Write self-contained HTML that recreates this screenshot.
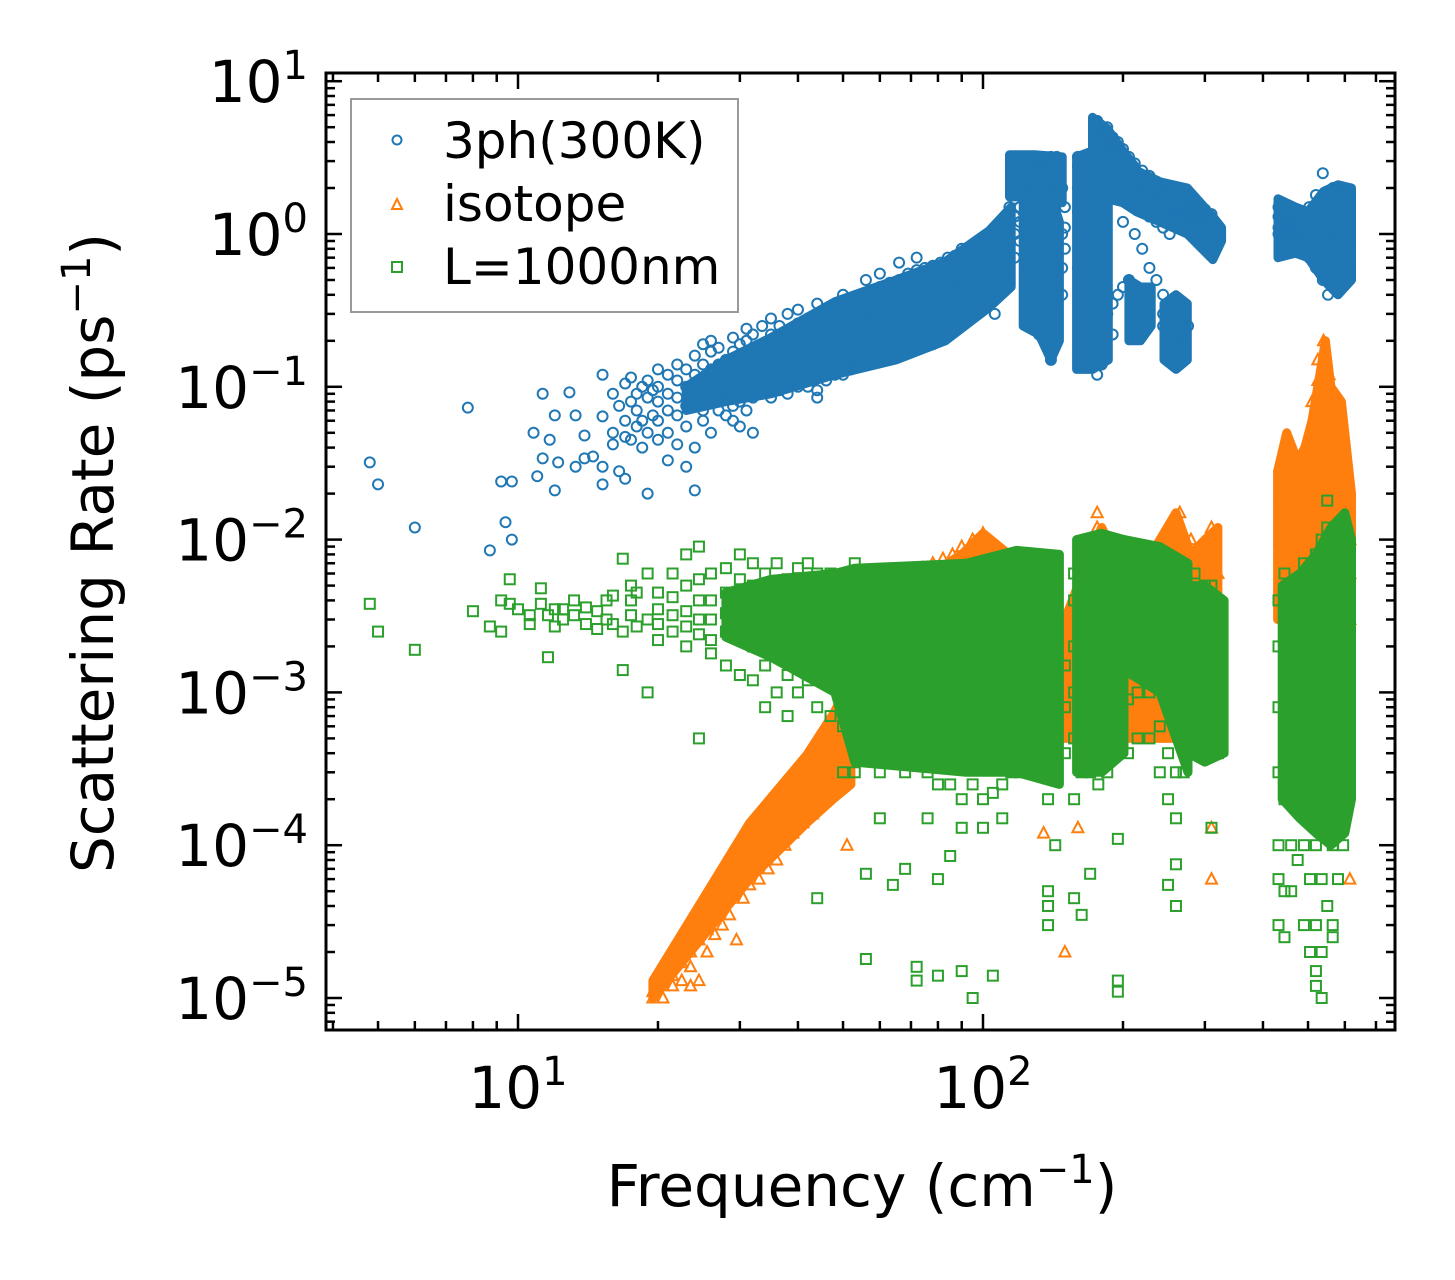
<!DOCTYPE html>
<html><head><meta charset="utf-8"><style>
html,body{margin:0;padding:0;background:#fff;}
svg{display:block;font-family:"DejaVu Sans","Liberation Sans",sans-serif;}
</style></head><body>
<svg id="chart" width="1455" height="1280" viewBox="0 0 1455 1280">
<rect x="0" y="0" width="1455" height="1280" fill="#fff"/>
<g id="marks"></g>
<g id="axes"></g>
<g id="legend">
<rect x="351" y="99" width="387" height="213" fill="#fff" fill-opacity="0.8" stroke="#999" stroke-width="2"/>
<circle cx="397" cy="140" r="4.5" fill="none" stroke="#1f77b4" stroke-width="2"/>
<text x="443" y="158" font-size="50">3ph(300K)</text>
<path d="M397,199 L402,209 L392,209 Z" fill="none" stroke="#ff7f0e" stroke-width="2"/>
<text x="443" y="221" font-size="50">isotope</text>
<rect x="392" y="262" width="10" height="10" fill="none" stroke="#2ca02c" stroke-width="2"/>
<text x="443" y="284" font-size="50">L=1000nm</text>
</g>
<text x="862" y="1206" font-size="58" text-anchor="middle">Frequency (cm<tspan baseline-shift="super" font-size="40">−1</tspan>)</text>
<text transform="translate(113,553) rotate(-90)" font-size="58" text-anchor="middle">Scattering Rate (ps<tspan baseline-shift="super" font-size="40">−1</tspan>)</text>
</svg>
<script>
const xTickExps = [1, 2];
const yTickExps = [1, 0, -1, -2, -3, -4, -5];

// Dense (marker-saturated) regions: frequency, lower and upper rate envelopes
const blueBandFreq = [[23,28,35,48,65,83,103,115],[114,130,148],[122,132,140,146],[159,172,186],[172,185,200,214],[214,240,275,312,326],[206,218,230],[245,260,275],[431,470,500,540,580,620]];
const blueBandLo   = [[0.07,0.08,0.09,0.12,0.15,0.2,0.33,0.45],[1.75,1.75,1.6],[0.25,0.22,0.15,0.2],[0.13,0.13,0.15],[1.6,1.7,1.6,1.4],[1.4,1.2,1.0,0.68,0.9],[0.2,0.2,0.25],[0.15,0.13,0.15],[0.7,0.75,0.7,0.5,0.4,0.5]];
const blueBandHi   = [[0.1,0.15,0.21,0.36,0.5,0.66,1.05,1.5],[3.3,3.3,3.2],[1.8,1.8,1.8,1.2],[3.2,3.5,2.0],[5.8,4.9,3.5,2.7],[2.6,2.2,2.0,1.3,1.1],[0.5,0.45,0.45],[0.35,0.4,0.35],[1.7,1.5,1.4,1.9,2.1,2.0]];
const orangeBandFreq = [[19.5,31.5,41.8,47.6,52],[52,70,90,100,120,145],[150,170,180,200,230,260,280,300,320],[430,450,480,510,530,545,560,590,620]];
const orangeBandLo   = [[1e-5,6e-5,1.4e-4,2e-4,2.5e-4],[4e-4,5e-4,5e-4,5e-4,5e-4,5e-4],[5e-4,5e-4,5e-4,5e-4,5e-4,5e-4,5e-4,5e-4,5e-4],[3e-3,3e-3,3e-3,3e-3,3e-3,3e-3,3e-3,3e-3,3e-3]];
const orangeBandHi   = [[1.3e-5,1.4e-4,3.9e-4,7.2e-4,1.2e-3],[3e-3,5e-3,8e-3,1.1e-2,7e-3,6e-3],[3e-3,8e-3,1.2e-2,6e-3,8e-3,1.5e-2,8e-3,1e-2,1.2e-2],[2.8e-2,5e-2,3e-2,6e-2,1.2e-1,2e-1,1e-1,8e-2,2e-2]];
const greenBandFreq = [[28,35,48,53,92,118,146],[159,180,201],[201,240,276],[276,300,330],[440,480,520,560,600,620]];
const greenBandLo   = [[2.3e-3,1.7e-3,1e-3,3.5e-4,3e-4,3e-4,2.5e-4],[3e-4,3e-4,4e-4],[1.4e-3,1e-3,3e-4],[4e-4,3.5e-4,4e-4],[2e-4,1.5e-4,1.2e-4,1e-4,1.2e-4,2e-4]];
const greenBandHi   = [[4.5e-3,5.5e-3,6e-3,6.5e-3,7e-3,8.5e-3,8e-3],[1e-2,1.1e-2,1e-2],[1e-2,9e-3,7e-3],[5e-3,5e-3,4e-3],[5e-3,6e-3,8e-3,1.2e-2,1.5e-2,1e-2]];

const blueData = [
[4.8,[0.032]],[5.0,[0.023]],[6.0,[0.012]],[7.8,[0.073]],[8.7,[0.0085]],[9.2,[0.024]],[9.4,[0.013]],[9.7,[0.024,0.01]],
[10.8,[0.05]],[11.0,[0.026]],[11.3,[0.09,0.034]],[11.7,[0.045]],[12,[0.065,0.021]],[12.2,[0.032]],[12.9,[0.092]],
[13.3,[0.03,0.065]],[13.9,[0.048,0.034]],[14.5,[0.035]],[15.2,[0.12,0.064,0.023,0.03]],[16,[0.09,0.05,0.042]],
[16.5,[0.075,0.028]],[17,[0.105,0.06,0.025,0.047]],[17.5,[0.115,0.08,0.045]],[18,[0.07,0.09,0.055]],[18.5,[0.1,0.06,0.04]],
[19,[0.085,0.11,0.05,0.02]],[19.5,[0.095,0.065]],
[20,[0.06,0.08,0.1,0.13,0.045]],[21,[0.07,0.09,0.12,0.05,0.033]],[22,[0.065,0.085,0.11,0.14,0.042]],
[23,[0.075,0.1,0.13,0.055,0.03]],[24,[0.08,0.095,0.12,0.16,0.04,0.021]],[25,[0.07,0.09,0.11,0.14,0.19,0.06]],
[26,[0.08,0.1,0.13,0.17,0.2,0.05]],[27,[0.085,0.11,0.14,0.18,0.07]],[28,[0.09,0.12,0.15,0.1,0.065]],
[29,[0.095,0.13,0.17,0.21,0.075,0.06]],[30,[0.1,0.12,0.15,0.19,0.08,0.055]],[31,[0.09,0.13,0.16,0.2,0.24,0.07]],
[32,[0.1,0.14,0.18,0.22,0.085,0.05]],[33.5,[0.11,0.15,0.19,0.25,0.09,0.13]],[35,[0.1,0.13,0.17,0.22,0.28,0.085]],
[36.5,[0.12,0.16,0.2,0.25,0.095,0.14]],[38,[0.11,0.14,0.18,0.23,0.3,0.09]],[40,[0.12,0.15,0.2,0.26,0.32,0.1,0.17]],
[42,[0.13,0.17,0.22,0.28,0.1,0.15]],[44,[0.12,0.16,0.21,0.27,0.35,0.095,0.085]],[46,[0.14,0.18,0.24,0.3,0.11,0.16]],
[48,[0.15,0.2,0.26,0.33,0.12,0.18]],[50,[0.14,0.19,0.25,0.32,0.4,0.12,0.22]],[52,[0.16,0.21,0.28,0.36,0.13,0.24]],
[54,[0.17,0.22,0.3,0.38,0.14,0.26]],[56,[0.18,0.24,0.31,0.4,0.5,0.15,0.27]],[58,[0.19,0.25,0.33,0.43,0.16,0.29]],
[60,[0.2,0.26,0.35,0.45,0.55,0.17,0.3]],[63,[0.21,0.28,0.37,0.48,0.18,0.32,0.42]],[66,[0.22,0.3,0.4,0.5,0.65,0.19,0.35]],
[69,[0.24,0.32,0.42,0.55,0.2,0.37,0.48]],[72,[0.25,0.34,0.45,0.58,0.7,0.21,0.4]],[75,[0.27,0.36,0.48,0.6,0.22,0.42,0.54]],
[78,[0.28,0.38,0.5,0.62,0.19,0.44,0.56]],[81,[0.3,0.4,0.52,0.65,0.25,0.46]],[84,[0.32,0.42,0.55,0.7,0.26,0.48]],
[87,[0.33,0.44,0.58,0.72,0.28,0.5]],[90,[0.35,0.46,0.6,0.75,0.3,0.8,0.53]],[94,[0.37,0.48,0.62,0.78,0.3,0.55]],
[98,[0.4,0.5,0.65,0.8,0.33,0.58]],[102,[0.42,0.55,0.7,0.85,0.35,0.62]],[106,[0.45,0.6,0.75,0.9,0.38,0.3]],
[110,[0.5,0.65,0.8,1.0,0.42,0.57]],[114,[0.6,0.75,0.9,1.2,1.5,0.5]],[117,[1.0,1.3,1.7,2.2,3.2,0.7]],
[120,[1.2,1.5,2.0,2.5,3.0,0.9]],[124,[1.5,1.9,2.3,2.8,1.2,0.6]],[128,[1.6,2.0,2.4,2.9,0.5,0.3]],
[132,[1.8,2.2,2.6,3.0,0.35,0.22]],[136,[1.9,2.3,2.7,3.1,1.2,0.25]],[140,[2.0,2.4,2.8,3.2,0.2,0.15,0.7]],
[144,[2.1,2.5,2.9,3.2,0.3,0.5]],[148,[1.0,0.6,0.4,2.0]],[150,[0.8,1.1,1.5]],
[160,[1.4,2.0,2.8,3.2,0.6]],[165,[1.0,1.5,2.2,3.0,0.3,0.5]],[169,[0.8,1.2,1.8,2.4,0.25]],[173,[0.5,0.7,1.0,1.5,0.2]],
[176,[0.12,0.15,0.2,0.3,0.45,5.5,4.5]],[180,[4.0,4.5,5.0,3.5,2.5,0.14]],[185,[3.5,4.2,5.0,2.8,0.3]],
[190,[3.0,3.6,4.3,2.5,0.35,0.22]],[195,[2.8,3.3,4.0,2.3,0.4]],[200,[2.5,3.0,3.6,1.8,1.2,0.45]],
[206,[2.2,2.7,3.2,1.6,0.5]],[212,[2.0,2.4,2.9,1.5,1.0]],[220,[1.8,2.2,2.6,1.4,0.8]],[228,[1.7,2.0,2.4,1.3,0.6]],
[236,[1.6,1.9,2.2,1.2,0.5]],[244,[1.5,1.8,2.1,1.1,0.4,0.3,0.25]],[252,[1.4,1.7,2.0,1.0,0.35,0.22]],
[260,[1.4,1.6,1.9,0.3,0.2,0.18]],[268,[1.3,1.5,1.8,0.35,0.25,0.2]],[276,[1.3,1.5,1.7,0.25]],[284,[1.2,1.4,1.6]],
[292,[1.2,1.35,1.5]],[300,[1.1,1.3,1.45]],[310,[1.05,1.2,1.35]],[322,[1.0,1.1]],
[432,[1.1,1.3,1.5,1.0]],[445,[1.0,1.2,1.4,0.9]],[458,[1.0,1.2,1.3,0.95]],[472,[0.9,1.1,1.3]],
[486,[0.9,1.0,1.2,1.4]],[503,[0.8,1.0,1.2,1.5,0.7]],[520,[0.7,0.9,1.1,1.4,1.8,0.6]],
[538,[0.6,0.8,1.0,1.3,1.7,2.5,0.5]],[552,[0.5,0.7,1.0,1.4,1.9,0.4]],[566,[0.6,0.8,1.1,1.5,2.0,0.45]],
[580,[0.7,0.9,1.2,1.6,2.0,0.5]],[595,[0.8,1.0,1.3,1.7,0.6]],[610,[0.9,1.1,1.4,1.9,0.55]]
];
const orangeData = [
[19.5,[1e-5,1.1e-5]],[20.5,[1.2e-5,1.5e-5,1e-5]],[21.5,[1.4e-5,1.8e-5,1.2e-5]],[22.5,[1.7e-5,2.2e-5,1.3e-5]],
[23.5,[2e-5,2.6e-5,1.6e-5,1.2e-5]],[24.5,[2.4e-5,3.1e-5,4e-5,1.3e-5]],[25.5,[2.8e-5,3.6e-5,4.8e-5,2e-5]],
[26.5,[3.3e-5,4.3e-5,5.6e-5,2.6e-5]],[27.5,[3.9e-5,5e-5,6.5e-5,3e-5]],[28.5,[4.5e-5,6e-5,7.8e-5,3.5e-5]],
[29.5,[5.2e-5,7e-5,9e-5,2.4e-5]],[30.5,[6e-5,8e-5,1.05e-4,4.5e-5]],[31.5,[7e-5,9.5e-5,1.2e-4,5.5e-5]],
[33,[8e-5,1.1e-4,1.4e-4,6e-5]],[34.5,[1e-4,1.3e-4,1.7e-4,7e-5]],[36,[1.2e-4,1.5e-4,1.9e-4,8e-5]],
[37.5,[1.4e-4,1.7e-4,2.1e-4,1e-4]],[39,[1.6e-4,1.9e-4,2.3e-4,1.2e-4]],[41,[1.8e-4,2.1e-4,2.5e-4,1.4e-4]],
[43,[2e-4,2.3e-4,2.8e-4,1.6e-4]],[45,[2.3e-4,2.6e-4,3.1e-4,1.9e-4]],[47,[2.6e-4,3e-4,3.6e-4,4.5e-4]],
[49,[3e-4,4e-4,5.5e-4,8e-4]],[51,[4e-4,6e-4,9e-4,1.3e-3,1e-4]],[53,[5e-4,8e-4,1.2e-3,1.8e-3]],
[55,[6e-4,1e-3,1.5e-3,2.2e-3]],[57,[8e-4,1.3e-3,2e-3,3e-3]],[60,[1e-3,1.6e-3,2.4e-3,3.5e-3,6e-4]],
[63,[1.2e-3,2e-3,3e-3,4e-3,7e-4]],[66,[1.5e-3,2.5e-3,3.5e-3,5e-3]],[70,[1.8e-3,2.8e-3,4e-3,6e-3,9e-4]],
[74,[2e-3,3e-3,4.5e-3,6.5e-3]],[78,[2.2e-3,3.2e-3,5e-3,7e-3,1e-3]],[82,[2.5e-3,3.5e-3,5.5e-3,7.5e-3]],
[86,[2.8e-3,4e-3,6e-3,8e-3,1.2e-3]],[90,[3e-3,4.5e-3,6.5e-3,9e-3]],[95,[3.2e-3,5e-3,7e-3,1e-2,1.5e-3]],
[100,[3.5e-3,5.5e-3,8e-3,1.1e-2]],[105,[3e-3,4.5e-3,6e-3,8e-3,1.3e-3]],[110,[2.5e-3,4e-3,5.5e-3,7e-3]],
[115,[2e-3,3e-3,4e-3,5e-3,1e-3]],[120,[1.8e-3,2.8e-3,3.8e-3,1.2e-3]],[127,[2e-3,3e-3,4.5e-3]],
[135,[2.5e-3,3.5e-3,5e-3,1.5e-3,1.2e-4]],[143,[2e-3,3e-3,4e-3]],[150,[1e-3,2e-3,3e-3,2e-5]],
[160,[2e-3,3e-3,4e-3,5e-3,8e-4,1.3e-4]],[168,[3e-3,4.5e-3,6e-3,8e-3,1e-3]],[176,[4e-3,6e-3,9e-3,1.2e-2,1.5e-2]],
[185,[3e-3,5e-3,7e-3,9e-3]],[195,[2.5e-3,4e-3,6e-3,2e-3]],[205,[3e-3,4e-3,5e-3]],[215,[3e-3,4e-3,5.5e-3,2e-3]],
[228,[3e-3,4.5e-3,6e-3,2.5e-3]],[240,[3.5e-3,5e-3,7e-3,9e-3,2e-3]],[255,[4e-3,6e-3,9e-3,1.3e-2,2.5e-3]],
[265,[5e-3,8e-3,1.2e-2,1.5e-2,1e-3]],[280,[3e-3,5e-3,7e-3,1e-2]],[295,[2.5e-3,4e-3,6e-3]],
[310,[3e-3,5e-3,8e-3,1.2e-2,6e-5,1.3e-4]],[320,[3e-3,4e-3,6e-3]],
[435,[5e-3,1e-2,2e-2,3e-2]],[450,[8e-3,1.5e-2,2.5e-2,4e-2,5e-3]],[470,[5e-3,8e-3,1.2e-2,2e-2,3e-3]],
[490,[6e-3,1e-2,1.6e-2,2.5e-2,4e-2]],[510,[8e-3,1.5e-2,3e-2,5e-2,8e-2]],[525,[1e-2,2e-2,4e-2,7e-2,1.1e-1,1.5e-1]],
[540,[1.2e-2,2.5e-2,5e-2,9e-2,1.4e-1,2e-1]],[555,[1e-2,2e-2,4e-2,7e-2,1.2e-1]],[570,[8e-3,1.5e-2,3e-2,5e-2,8e-2]],
[585,[5e-3,1e-2,2e-2,3e-2,5e-2]],[600,[4e-3,8e-3,1.5e-2,2.5e-2,1.9e-4]],[615,[3e-3,6e-3,1e-2,6e-5]]
];
const greenData = [
[4.8,[3.8e-3]],[5.0,[2.5e-3]],[6,[1.9e-3]],[8,[3.4e-3]],[8.7,[2.7e-3]],[9.2,[4e-3,2.5e-3]],[9.6,[5.5e-3,3.8e-3]],
[10,[3.5e-3]],[10.6,[3.2e-3,2.8e-3]],[11.2,[4.8e-3,3.8e-3]],[11.6,[1.7e-3,3.2e-3]],[12,[2.7e-3,3.5e-3]],
[12.5,[3.5e-3,3e-3]],[13.2,[3.2e-3,4e-3]],[14,[2.8e-3,3.6e-3]],[14.8,[3.4e-3,2.6e-3]],[15.5,[4e-3,3e-3]],
[16,[4.3e-3,2.8e-3]],[16.8,[1.4e-3,2.5e-3,7.5e-3]],[17.5,[4e-3,3.2e-3,5e-3]],[18,[2.7e-3,4.5e-3]],[19,[3e-3,6e-3,1e-3]],
[20,[2.8e-3,3.5e-3,4.5e-3,2.2e-3]],[21.5,[2.5e-3,3.2e-3,4.2e-3,6e-3]],[23,[2.7e-3,3.4e-3,5e-3,2e-3,8e-3]],
[24.5,[2.4e-3,3e-3,4e-3,5.5e-3,9e-3,5e-4]],[26,[2.2e-3,3e-3,4e-3,6e-3,1.8e-3]],[28,[2.5e-3,3.3e-3,4.5e-3,6.5e-3,1.5e-3]],
[30,[2.3e-3,3e-3,4e-3,5.5e-3,8e-3,1.3e-3]],[32,[2e-3,2.8e-3,3.8e-3,5e-3,7e-3,1.2e-3]],
[34,[2.2e-3,3e-3,4.2e-3,6e-3,1.5e-3,8e-4]],[36,[1.8e-3,2.6e-3,3.6e-3,5e-3,7e-3,1e-3]],
[38,[2e-3,2.8e-3,4e-3,5.5e-3,1.3e-3,7e-4]],[40,[1.6e-3,2.4e-3,3.4e-3,4.8e-3,6.5e-3,1e-3]],
[42,[1.8e-3,2.6e-3,3.8e-3,5.2e-3,7e-3,1.2e-3]],[44,[1.5e-3,2.2e-3,3.2e-3,4.5e-3,6e-3,4.5e-5,8e-4]],
[47,[1.4e-3,2e-3,3e-3,4.2e-3,6e-3,7e-4]],[50,[1.2e-3,1.8e-3,2.6e-3,3.8e-3,5.5e-3,6e-4,3e-4]],
[53,[5e-4,8e-4,1.3e-3,2e-3,3e-3,4.5e-3,7e-3,3e-4]],[56,[4e-4,7e-4,1.1e-3,1.8e-3,2.8e-3,4e-3,6e-3,1.8e-5,6.5e-5]],
[60,[3e-4,6e-4,1e-3,1.6e-3,2.5e-3,4e-3,6e-3,1.5e-4]],[64,[3.5e-4,6e-4,1e-3,1.5e-3,2.4e-3,3.6e-3,5.5e-3,5.5e-5]],
[68,[3e-4,5.5e-4,9e-4,1.4e-3,2.2e-3,3.5e-3,5.5e-3,7e-5]],[72,[3.5e-4,6e-4,9e-4,1.5e-3,2.4e-3,3.8e-3,6e-3,1.3e-5,1.6e-5]],
[76,[3e-4,5e-4,8e-4,1.3e-3,2.1e-3,3.4e-3,5.2e-3,1.5e-4]],[80,[2.5e-4,4.5e-4,8e-4,1.2e-3,2e-3,3.2e-3,5e-3,6e-5,1.4e-5]],
[85,[2.5e-4,4.5e-4,7.5e-4,1.2e-3,2e-3,3e-3,5e-3,8.5e-5]],[90,[2e-4,4e-4,7e-4,1.1e-3,1.8e-3,2.8e-3,4.5e-3,1.5e-5,1.3e-4]],
[95,[2.5e-4,4.5e-4,7.5e-4,1.2e-3,2e-3,3e-3,4.8e-3,1e-5]],[100,[2e-4,3.5e-4,6e-4,1e-3,1.6e-3,2.6e-3,4.2e-3,1.3e-4]],
[105,[2.2e-4,4e-4,7e-4,1.1e-3,1.8e-3,2.8e-3,1.4e-5]],[110,[2.5e-4,4.5e-4,8e-4,1.3e-3,2.2e-3,3.5e-3,1.5e-4]],
[115,[3e-4,5e-4,9e-4,1.5e-3,2.5e-3,4e-3]],[120,[3e-4,5e-4,8e-4,1.3e-3,2.2e-3,3.5e-3,5e-3]],
[126,[4e-4,7e-4,1.2e-3,2e-3,3e-3]],[132,[4e-4,7e-4,1.1e-3,1.8e-3,2.8e-3,4e-3]],
[138,[2e-4,4e-4,8e-4,1.5e-3,2.5e-3,4e-5,3e-5,5e-5]],[143,[1e-4,3e-4,6e-4,1.2e-3,2e-3,3.5e-3]],
[150,[4e-4,8e-4,1.5e-3]],[157,[2e-4,5e-4,1e-3,2e-3,4e-3,6e-3,4.5e-5]],
[163,[3e-4,6e-4,1.2e-3,2.5e-3,5e-3,8e-3,9e-3,3.5e-5]],[170,[3e-4,6e-4,1.2e-3,2.5e-3,4.5e-3,7e-3,6.5e-5]],
[177,[2.5e-4,5e-4,1e-3,2e-3,4e-3,6e-3]],[185,[3e-4,6e-4,1.2e-3,2.4e-3,4.5e-3,7e-3,9e-3]],
[195,[4e-4,8e-4,1.5e-3,3e-3,5e-3,8e-3,1.1e-4,1.3e-5,1.1e-5]],[205,[4e-4,9e-4,1.8e-3,3.5e-3,5.5e-3,8e-3]],
[215,[5e-4,1e-3,2e-3,3.5e-3,5.5e-3,8e-3]],[228,[5e-4,1e-3,2e-3,3.5e-3,5.5e-3,8e-3]],
[240,[3e-4,6e-4,1.2e-3,2.5e-3,4.5e-3,7e-3]],[250,[2e-4,4e-4,8e-4,1.5e-3,3e-3,5.5e-3,5.5e-5]],
[260,[1.5e-4,3e-4,6e-4,1.2e-3,2.5e-3,5e-3,7.5e-5,4e-5]],[270,[3e-4,6e-4,1.2e-3,2.5e-3,5e-3,6.5e-3]],
[285,[6e-4,1.2e-3,2.5e-3,4.5e-3,6e-3]],[300,[8e-4,1.5e-3,3e-3,5e-3]],[310,[4e-4,8e-4,1.5e-3,3e-3,5e-3,1.3e-4]],
[320,[4e-4,7e-4,1e-3,2e-3]],
[432,[1e-4,3e-4,8e-4,2e-3,4e-3,3e-5,6e-5]],[445,[5e-5,2e-4,5e-4,1.2e-3,3e-3,6e-3,2.5e-5]],
[460,[1e-4,3e-4,7e-4,1.5e-3,3.5e-3,5e-5]],[475,[2e-4,5e-4,1e-3,2.5e-3,5e-3,8e-5]],
[490,[1e-4,3e-4,8e-4,2e-3,4e-3,7e-3,3e-5]],[505,[6e-5,2e-4,6e-4,1.5e-3,3.5e-3,6e-3,2e-5]],
[520,[3e-5,1e-4,4e-4,1.2e-3,3e-3,8e-3,1.2e-5,1.5e-5]],[535,[2e-5,6e-5,3e-4,1e-3,3e-3,1e-2,1e-5]],
[550,[4e-5,1.2e-4,5e-4,1.5e-3,4e-3,1.2e-2,1.8e-2]],[565,[3e-5,1e-4,4e-4,1.2e-3,3.5e-3,8e-3,2.5e-5]],
[580,[6e-5,2e-4,6e-4,1.5e-3,4e-3,7e-3]],[595,[1e-4,3e-4,8e-4,2e-3,4e-3]],[610,[3e-4,8e-4,1.5e-3,3e-3]]
];

const NS = "http://www.w3.org/2000/svg";
const L = 326, R = 1395, T = 73, B = 1030;
const X2 = 983, XDEC = 465;
const Y0 = 234, YDEC = 152.8;
function xs(v){ return X2 + (Math.log10(v) - 2) * XDEC; }
function ys(v){ return Y0 - Math.log10(v) * YDEC; }
const xMin = Math.pow(10, 2 + (L - X2) / XDEC), xMax = Math.pow(10, 2 + (R - X2) / XDEC);
const yMax = Math.pow(10, (Y0 - T) / YDEC), yMin = Math.pow(10, (Y0 - B) / YDEC);

const marks = document.getElementById('marks');
function mk(tag, attrs, parent){
  const e = document.createElementNS(NS, tag);
  for (const k in attrs) e.setAttribute(k, attrs[k]);
  parent.appendChild(e);
  return e;
}
function drawBands(freqs, los, his, color, name){
  const g = mk('g', {fill:color, stroke:color, 'stroke-width':9, 'stroke-linejoin':'round'}, marks);
  
  
  freqs.forEach(function(fs, i){
    let d = '';
    fs.forEach(function(f, j){ d += (j ? 'L' : 'M') + xs(f).toFixed(1) + ',' + ys(his[i][j]).toFixed(1) + ' '; });
    for (let j = fs.length - 1; j >= 0; j--) d += 'L' + xs(fs[j]).toFixed(1) + ',' + ys(los[i][j]).toFixed(1) + ' ';
    const p = mk('path', {d: d + 'Z'}, g);
    
    
  });
}
function drawSeries(data, kind, color, name){
  const g = mk('g', {fill:'none', stroke:color, 'stroke-width':2}, marks);
  
  
  data.forEach(function(col){
    const f = col[0];
    col[1].forEach(function(r){
      const cx = xs(f), cy = ys(r);
      let e;
      if (kind === 'circle') e = mk('circle', {cx:cx, cy:cy, r:5}, g);
      else if (kind === 'tri') e = mk('path', {d:'M'+cx+','+(cy-6)+' L'+(cx+5.5)+','+(cy+4.5)+' L'+(cx-5.5)+','+(cy+4.5)+' Z'}, g);
      else e = mk('rect', {x:cx-5, y:cy-5, width:10, height:10}, g);
      
      
    });
  });
}
drawBands(blueBandFreq, blueBandLo, blueBandHi, '#1f77b4', '3ph');
drawSeries(blueData, 'circle', '#1f77b4', '3ph');
drawBands(orangeBandFreq, orangeBandLo, orangeBandHi, '#ff7f0e', 'isotope');
drawSeries(orangeData, 'tri', '#ff7f0e', 'isotope');
drawBands(greenBandFreq, greenBandLo, greenBandHi, '#2ca02c', 'boundary');
drawSeries(greenData, 'square', '#2ca02c', 'boundary');

const axes = document.getElementById('axes');
const frame = mk('rect', {x:L, y:T, width:R-L, height:B-T, fill:'none', stroke:'#000', 'stroke-width':3}, axes);


const tg = mk('g', {stroke:'#000', 'stroke-width':2.5}, axes);


for (let e = 0; e <= 3; e++) for (let m = 1; m <= 9; m++) {
  const v = m * Math.pow(10, e);
  if (v < xMin || v > xMax) continue;
  const x = xs(v), len = m === 1 ? 16 : 9;
  mk('line', {x1:x, y1:B, x2:x, y2:B-len}, tg);
  mk('line', {x1:x, y1:T, x2:x, y2:T+len}, tg);
}
for (let e = -6; e <= 1; e++) for (let m = 1; m <= 9; m++) {
  const v = m * Math.pow(10, e);
  if (v < yMin || v > yMax) continue;
  const y = ys(v), len = m === 1 ? 16 : 9;
  mk('line', {x1:L, y1:y, x2:L+len, y2:y}, tg);
  mk('line', {x1:R, y1:y, x2:R-len, y2:y}, tg);
}
xTickExps.forEach(function(k){
  const t = mk('text', {x:xs(Math.pow(10,k)), y:1108, 'font-size':58, 'text-anchor':'middle'}, axes);
  
  
  t.innerHTML = '10<tspan baseline-shift="super" font-size="40">' + k + '</tspan>';
});
yTickExps.forEach(function(k){
  const t = mk('text', {x:308, y:ys(Math.pow(10,k))+21, 'font-size':58, 'text-anchor':'end'}, axes);
  
  
  t.innerHTML = '10<tspan baseline-shift="super" font-size="40">' + (k < 0 ? '−' + (-k) : k) + '</tspan>';
});
</script>
</body></html>
